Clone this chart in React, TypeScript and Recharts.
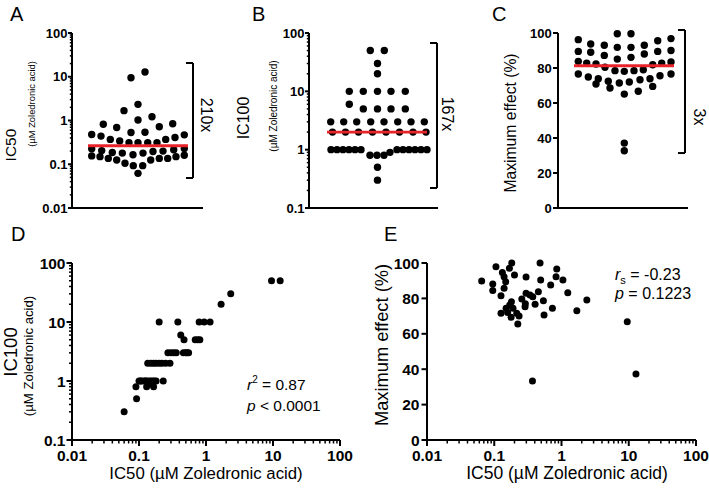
import React from 'react';
import { ScatterChart, Scatter, XAxis, YAxis, ReferenceLine } from 'recharts';

const FONT = '"Liberation Sans", Arial, Helvetica, sans-serif';
const RED = '#e8242b';
const BLACK = '#000000';

// ---------- Panel A: IC50 swarm (pos = swarm column offset, v = IC50 µM) ----------
const ic50Swarm = [
  { pos: 7, v: 12.8 }, { pos: -7, v: 9.5 },
  { pos: 0, v: 2.34 }, { pos: -14, v: 1.68 },
  { pos: 14, v: 1.22 }, { pos: 0, v: 1.03 },
  { pos: -34.7, v: 0.82 }, { pos: -21.3, v: 0.69 }, { pos: 21.3, v: 0.72 }, { pos: 34.7, v: 0.84 },
  { pos: -7, v: 0.53 }, { pos: 7, v: 0.54 },
  { pos: -46.3, v: 0.48 }, { pos: -37, v: 0.44 }, { pos: -27.7, v: 0.37 }, { pos: -18.3, v: 0.34 },
  { pos: -9, v: 0.31 }, { pos: 0, v: 0.31 }, { pos: 9.7, v: 0.31 }, { pos: 19, v: 0.31 },
  { pos: 27.7, v: 0.37 }, { pos: 37, v: 0.41 }, { pos: 46.3, v: 0.47 },
  { pos: -46.3, v: 0.225 }, { pos: -36.3, v: 0.205 }, { pos: -25.7, v: 0.185 }, { pos: -15.7, v: 0.18 },
  { pos: -5, v: 0.165 }, { pos: 5, v: 0.18 }, { pos: 15, v: 0.195 }, { pos: 25, v: 0.2 },
  { pos: 35.7, v: 0.215 }, { pos: 46.3, v: 0.23 },
  { pos: -46.3, v: 0.155 }, { pos: -38, v: 0.149 }, { pos: -29.7, v: 0.136 }, { pos: -21.3, v: 0.125 },
  { pos: -13, v: 0.105 }, { pos: -4.7, v: 0.093 }, { pos: 4.7, v: 0.093 }, { pos: 12.7, v: 0.125 },
  { pos: 21.3, v: 0.136 }, { pos: 29.7, v: 0.136 }, { pos: 38, v: 0.149 }, { pos: 46.3, v: 0.16 },
  { pos: 0, v: 0.062 },
];
const ic50Median = [{ pos: -50, v: 0.265 }, { pos: 50, v: 0.265 }];
const ic50Bracket = { pos: 55, arm: 48, top: 20.6, bottom: 0.0485, label: '210x' };

// ---------- Panel B: IC100 swarm ----------
const ic100Swarm = [
  { pos: -7.2, v: 50 }, { pos: 6.8, v: 50 },
  { pos: 0, v: 30 }, { pos: 0, v: 20 },
  { pos: -28.2, v: 10 }, { pos: -14.2, v: 10 }, { pos: 0, v: 10 }, { pos: 13.5, v: 10 }, { pos: 27.8, v: 10 },
  { pos: -28.2, v: 6 },
  { pos: -14.2, v: 5 }, { pos: 0, v: 5 }, { pos: 13.5, v: 5 }, { pos: 27.8, v: 5 },
  { pos: -46.8, v: 3 }, { pos: -33.8, v: 3 }, { pos: -20.8, v: 3 }, { pos: -6.8, v: 3 },
  { pos: 6.5, v: 3 }, { pos: 20.2, v: 3 }, { pos: 33.5, v: 3 }, { pos: 46.8, v: 3 },
  { pos: -45, v: 2 }, { pos: -32, v: 2 }, { pos: -19, v: 2 }, { pos: -5, v: 2 },
  { pos: 8.5, v: 2 }, { pos: 22, v: 2 }, { pos: 35.5, v: 2 }, { pos: 48.5, v: 2 },
  { pos: -46.5, v: 1 }, { pos: -40.5, v: 1 }, { pos: -34.5, v: 1 }, { pos: -28.5, v: 1 },
  { pos: -22.5, v: 1 }, { pos: -16.5, v: 1 },
  { pos: 19.5, v: 1 }, { pos: 25.5, v: 1 }, { pos: 31.5, v: 1 }, { pos: 37.5, v: 1 },
  { pos: 43.5, v: 1 }, { pos: 49.5, v: 1 },
  { pos: -7.5, v: 0.8 }, { pos: -0.5, v: 0.8 }, { pos: 6.5, v: 0.8 }, { pos: 12.5, v: 0.9 },
  { pos: 0, v: 0.5 }, { pos: 0, v: 0.3 },
];
const ic100Median = [{ pos: -50.5, v: 2 }, { pos: 49.5, v: 2 }];
const ic100Bracket = { pos: 59.5, arm: 52.5, top: 67.4, bottom: 0.22, label: '167x' };

// ---------- Panel C: maximum effect swarm ----------
const emaxSwarm = [
  { pos: -7, v: 99.6 }, { pos: 6.7, v: 99.6 }, { pos: -46, v: 96.2 }, { pos: 46.7, v: 96.8 }, { pos: 33.4, v: 95.6 },
  { pos: -33.6, v: 93.7 }, { pos: -20, v: 93 }, { pos: 20, v: 93 }, { pos: -7, v: 91.8 }, { pos: 6.7, v: 91.8 },
  { pos: -46, v: 89.5 }, { pos: -33.6, v: 89 }, { pos: 33.4, v: 89.5 }, { pos: 46.7, v: 90 },
  { pos: -20, v: 87.2 }, { pos: 20, v: 88 }, { pos: -7, v: 85.1 }, { pos: 6.7, v: 86.1 },
  { pos: -46, v: 83.8 }, { pos: 46.7, v: 83.4 }, { pos: -37.6, v: 82.8 }, { pos: 37.4, v: 82.8 },
  { pos: -28.3, v: 82.3 }, { pos: 28.4, v: 81.9 }, { pos: -19.3, v: 80.4 }, { pos: 19, v: 79 },
  { pos: -9.3, v: 78.5 }, { pos: 0, v: 78.1 }, { pos: 9.7, v: 78.5 },
  { pos: -46, v: 76.6 }, { pos: 46.7, v: 76.6 }, { pos: 35.7, v: 75.6 }, { pos: -36, v: 74.9 },
  { pos: -26, v: 73.9 }, { pos: 25.7, v: 73.9 }, { pos: -16, v: 72.4 }, { pos: 15.7, v: 73.3 },
  { pos: -5, v: 71.4 }, { pos: 5, v: 72 }, { pos: -28.3, v: 70.9 }, { pos: 28.4, v: 69.5 },
  { pos: -14.3, v: 68.6 }, { pos: 14, v: 66.7 }, { pos: 0, v: 65.1 },
  { pos: 0, v: 37.1 }, { pos: 0, v: 32.7 },
];
const emaxMedian = [{ pos: -50.3, v: 81.3 }, { pos: 49.7, v: 81.3 }];
const emaxBracket = { pos: 60.7, arm: 53.7, top: 101.7, bottom: 31.4, label: '3x' };

// ---------- Panel D: IC50 vs IC100 ----------
const ic50VsIc100 = [
  { x: 9.5, y: 50 }, { x: 12.8, y: 50 }, { x: 2.34, y: 30 }, { x: 1.68, y: 20 },
  { x: 0.2, y: 10 }, { x: 0.38, y: 10 }, { x: 0.79, y: 10 }, { x: 0.94, y: 10 }, { x: 1.15, y: 10 },
  { x: 0.42, y: 6 },
  { x: 0.47, y: 5 }, { x: 0.69, y: 5 }, { x: 0.75, y: 5 }, { x: 0.81, y: 5 },
  { x: 0.27, y: 3 }, { x: 0.3, y: 3 }, { x: 0.33, y: 3 }, { x: 0.36, y: 3 },
  { x: 0.46, y: 3 }, { x: 0.5, y: 3 }, { x: 0.52, y: 3 }, { x: 0.55, y: 3 },
  { x: 0.135, y: 2 }, { x: 0.15, y: 2 }, { x: 0.165, y: 2 }, { x: 0.18, y: 2 },
  { x: 0.2, y: 2 }, { x: 0.22, y: 2 }, { x: 0.25, y: 2 }, { x: 0.29, y: 2 },
  { x: 0.1, y: 1 }, { x: 0.105, y: 1 }, { x: 0.11, y: 1 }, { x: 0.12, y: 1 },
  { x: 0.125, y: 1 }, { x: 0.13, y: 1 }, { x: 0.14, y: 1 }, { x: 0.15, y: 1 },
  { x: 0.16, y: 1 }, { x: 0.17, y: 1 }, { x: 0.18, y: 1 }, { x: 0.23, y: 1 },
  { x: 0.09, y: 0.8 }, { x: 0.13, y: 0.8 }, { x: 0.165, y: 0.8 }, { x: 0.15, y: 0.9 },
  { x: 0.092, y: 0.5 }, { x: 0.06, y: 0.3 },
];

// ---------- Panel E: IC50 vs maximum effect ----------
const ic50VsEmax = [
  { x: 0.065, y: 89.8 }, { x: 0.095, y: 88.1 }, { x: 0.095, y: 84.4 }, { x: 0.106, y: 97.9 },
  { x: 0.132, y: 94.7 }, { x: 0.14, y: 92.3 }, { x: 0.148, y: 89.4 }, { x: 0.14, y: 85.7 },
  { x: 0.168, y: 97 }, { x: 0.182, y: 100 }, { x: 0.2, y: 93.2 }, { x: 0.126, y: 81.5 },
  { x: 0.297, y: 92.1 }, { x: 0.48, y: 100 }, { x: 0.49, y: 90.4 }, { x: 0.69, y: 87.6 },
  { x: 0.85, y: 96.6 }, { x: 0.83, y: 92.3 }, { x: 1.05, y: 90.4 }, { x: 1.24, y: 83.2 },
  { x: 2.38, y: 79.1 }, { x: 1.69, y: 73 }, { x: 9.5, y: 66.8 }, { x: 12.8, y: 37.3 },
  { x: 0.37, y: 33.3 },
  { x: 0.18, y: 78.1 }, { x: 0.17, y: 76.3 }, { x: 0.19, y: 74.4 }, { x: 0.126, y: 71.6 },
  { x: 0.158, y: 72.1 }, { x: 0.178, y: 69.3 }, { x: 0.216, y: 71.6 }, { x: 0.234, y: 70.1 },
  { x: 0.224, y: 65.5 }, { x: 0.257, y: 79.7 }, { x: 0.287, y: 75.3 }, { x: 0.297, y: 82.9 },
  { x: 0.34, y: 81.9 }, { x: 0.374, y: 81 }, { x: 0.405, y: 76.7 }, { x: 0.453, y: 83.8 },
  { x: 0.538, y: 78.7 }, { x: 0.55, y: 70.6 }, { x: 0.733, y: 74.4 }, { x: 0.15, y: 74.5 },
  { x: 0.29, y: 77 },
];

// ---------- ticks ----------
const decadesA = [0.01, 0.1, 1, 10, 100];
const decadesB = [0.1, 1, 10, 100];
const percentTicks = [0, 20, 40, 60, 80, 100];
const minorMultipliers = [2, 3, 4, 5, 6, 7, 8, 9];
const withMinor = (decades: number[]) => {
  const out: number[] = [];
  decades.forEach((d, i) => {
    out.push(d);
    if (i < decades.length - 1) minorMultipliers.forEach((m) => out.push(d * m));
  });
  return out;
};

const isMajor = (list: number[], v: number) => list.some((m) => Math.abs(m - v) <= 1e-9 * Math.max(1, Math.abs(m)));

const makeYTick = (major: number[], majorLen: number, minorLen: number, fontSize: number, gap: number) => (props: any) => {
  const { x, y, payload } = props;
  const v = payload.value;
  const maj = isMajor(major, v);
  const len = maj ? majorLen : minorLen;
  return (
    <g>
      <line x1={x} y1={y} x2={x - len} y2={y} stroke={BLACK} strokeWidth={maj ? 2 : 1.5} />
      {maj && (
        <text x={x - majorLen - gap} y={y} dy="0.36em" textAnchor="end" fontFamily={FONT} fontWeight="bold" fontSize={fontSize} fill={BLACK}>
          {String(v)}
        </text>
      )}
    </g>
  );
};

const makeXTick = (major: number[], majorLen: number, minorLen: number, fontSize: number, baseline: number) => (props: any) => {
  const { x, y, payload } = props;
  const v = payload.value;
  const maj = isMajor(major, v);
  const len = maj ? majorLen : minorLen;
  return (
    <g>
      <line x1={x} y1={y} x2={x} y2={y + len} stroke={BLACK} strokeWidth={maj ? 2 : 1.5} />
      {maj && (
        <text x={x} y={y + baseline} textAnchor="middle" fontFamily={FONT} fontWeight="bold" fontSize={fontSize} fill={BLACK}>
          {String(v)}
        </text>
      )}
    </g>
  );
};

const axisLine = { stroke: BLACK, strokeWidth: 2 };
const dot = (r: number) => (p: any) => <circle cx={p.cx} cy={p.cy} r={r} fill={BLACK} />;
const noShape = () => <g />;

type SwarmProps = {
  left: number; top: number; width: number; height: number;
  margin: { top: number; right: number; bottom: number; left: number };
  xDomain: [number, number];
  yDomain: [number, number];
  log: boolean;
  yTicks: number[];
  yMajor: number[];
  tickLen: number;
  tickGap: number;
  data: { pos: number; v: number }[];
  median: { pos: number; v: number }[];
  bracket: { pos: number; arm: number; top: number; bottom: number; label: string };
};

const Swarm = (p: SwarmProps) => (
  <div style={{ position: 'absolute', left: p.left, top: p.top, width: p.width, height: p.height }}>
    <ScatterChart width={p.width} height={p.height} margin={p.margin}>
      <XAxis type="number" dataKey="pos" domain={p.xDomain} height={1} tick={false} tickLine={false} axisLine={axisLine} />
      <YAxis
        type="number"
        dataKey="v"
        scale={p.log ? 'log' : 'linear'}
        domain={p.yDomain}
        ticks={p.yTicks}
        interval={0}
        width={40}
        tickSize={0}
        tickMargin={0}
        tickLine={false}
        axisLine={axisLine}
        tick={makeYTick(p.yMajor, p.tickLen, p.tickLen * 0.55, 13, p.tickGap)}
      />
      <ReferenceLine segment={[{ x: p.bracket.pos, y: p.bracket.top }, { x: p.bracket.pos, y: p.bracket.bottom }]} stroke={BLACK} strokeWidth={2} ifOverflow="visible" />
      <ReferenceLine segment={[{ x: p.bracket.arm, y: p.bracket.top }, { x: p.bracket.pos, y: p.bracket.top }]} stroke={BLACK} strokeWidth={2} ifOverflow="visible" />
      <ReferenceLine segment={[{ x: p.bracket.arm, y: p.bracket.bottom }, { x: p.bracket.pos, y: p.bracket.bottom }]} stroke={BLACK} strokeWidth={2} ifOverflow="visible" />
      <Scatter data={p.data} shape={dot(3.7)} isAnimationActive={false} />
      <Scatter data={p.median} shape={noShape} line={{ stroke: RED, strokeWidth: 2.8 }} isAnimationActive={false} />
    </ScatterChart>
  </div>
);

export default function App() {
  return (
    <div style={{ position: 'absolute', left: 0, top: 0, width: 709, height: 494, background: '#fff', overflow: 'hidden' }}>
      <Swarm
        left={0} top={0} width={240} height={220}
        margin={{ top: 33, right: 37, bottom: 11, left: 32 }}
        xDomain={[-66, 65]} yDomain={[0.01, 100]} log
        yTicks={withMinor(decadesA)} yMajor={decadesA} tickLen={4} tickGap={0.5}
        data={ic50Swarm} median={ic50Median} bracket={ic50Bracket}
      />
      <Swarm
        left={230} top={0} width={240} height={220}
        margin={{ top: 33, right: 32, bottom: 11, left: 39 }}
        xDomain={[-68.5, 60.5]} yDomain={[0.1, 100]} log
        yTicks={withMinor(decadesB)} yMajor={decadesB} tickLen={4} tickGap={0.5}
        data={ic100Swarm} median={ic100Median} bracket={ic100Bracket}
      />
      <Swarm
        left={470} top={0} width={239} height={220}
        margin={{ top: 33, right: 21, bottom: 11, left: 48 }}
        xDomain={[-66.3, 63.7]} yDomain={[0, 100]} log={false}
        yTicks={percentTicks} yMajor={percentTicks} tickLen={5} tickGap={1.3}
        data={emaxSwarm} median={emaxMedian} bracket={emaxBracket}
      />

      {/* Panel D */}
      <div style={{ position: 'absolute', left: 0, top: 220, width: 360, height: 274 }}>
        <ScatterChart width={360} height={274} margin={{ top: 43, right: 20, bottom: 24, left: 32 }}>
          <XAxis
            type="number" dataKey="x" scale="log" domain={[0.01, 100]}
            ticks={withMinor(decadesA)} interval={0} height={30} tickSize={0} tickMargin={0} tickLine={false}
            axisLine={axisLine} tick={makeXTick(decadesA, 6, 3.5, 15.5, 21)}
          />
          <YAxis
            type="number" dataKey="y" scale="log" domain={[0.1, 100]}
            ticks={withMinor(decadesB)} interval={0} width={40} tickSize={0} tickMargin={0} tickLine={false}
            axisLine={axisLine} tick={makeYTick(decadesB, 5.5, 3, 15.5, 1)}
          />
          <Scatter data={ic50VsIc100} shape={dot(3.5)} isAnimationActive={false} />
        </ScatterChart>
      </div>

      {/* Panel E */}
      <div style={{ position: 'absolute', left: 350, top: 220, width: 359, height: 274 }}>
        <ScatterChart width={359} height={274} margin={{ top: 43, right: 13, bottom: 24, left: 37 }}>
          <XAxis
            type="number" dataKey="x" scale="log" domain={[0.01, 100]}
            ticks={withMinor(decadesA)} interval={0} height={30} tickSize={0} tickMargin={0} tickLine={false}
            axisLine={axisLine} tick={makeXTick(decadesA, 6, 3.5, 15.5, 21)}
          />
          <YAxis
            type="number" dataKey="y" domain={[0, 100]}
            ticks={percentTicks} interval={0} width={40} tickSize={0} tickMargin={0} tickLine={false}
            axisLine={axisLine} tick={makeYTick(percentTicks, 5.5, 3, 15.5, 2)}
          />
          <Scatter data={ic50VsEmax} shape={dot(3.5)} isAnimationActive={false} />
        </ScatterChart>
      </div>

      {/* text overlay */}
      <svg width={709} height={494} style={{ position: 'absolute', left: 0, top: 0, pointerEvents: 'none' }} fontFamily={FONT} fill={BLACK}>
        <text x={10} y={21} fontSize={20}>A</text>
        <text x={252} y={21} fontSize={20}>B</text>
        <text x={492} y={21} fontSize={20}>C</text>
        <text x={11} y={241} fontSize={20}>D</text>
        <text x={384} y={241} fontSize={20}>E</text>

        <text transform="translate(11,145) rotate(-90)" textAnchor="middle" dy="0.35em" fontSize={15.5}>IC50</text>
        <text transform="translate(32,104) rotate(-90)" textAnchor="middle" dy="0.35em" fontSize={9.4}>(µM Zoledronic acid)</text>
        <text transform="translate(243,118) rotate(-90)" textAnchor="middle" dy="0.35em" fontSize={16}>IC100</text>
        <text transform="translate(273,106) rotate(-90)" textAnchor="middle" dy="0.35em" fontSize={10}>(µM Zoledronic acid)</text>
        <text transform="translate(510,123) rotate(-90)" textAnchor="middle" dy="0.35em" fontSize={15.7}>Maximum effect (%)</text>

        <text transform="translate(207,115) rotate(90)" textAnchor="middle" dy="0.35em" fontSize={16}>{ic50Bracket.label}</text>
        <text transform="translate(448,114) rotate(90)" textAnchor="middle" dy="0.35em" fontSize={16}>{ic100Bracket.label}</text>
        <text transform="translate(700,117) rotate(90)" textAnchor="middle" dy="0.35em" fontSize={16}>{emaxBracket.label}</text>

        <text transform="translate(11,352) rotate(-90)" textAnchor="middle" dy="0.35em" fontSize={18.5}>IC100</text>
        <text transform="translate(28,356) rotate(-90)" textAnchor="middle" dy="0.35em" fontSize={13.2}>(µM Zoledronic acid)</text>
        <text x={206} y={479} textAnchor="middle" fontSize={16.8}>IC50 (µM Zoledronic acid)</text>
        <text x={247} y={390} fontSize={15.5}>
          <tspan fontStyle="italic">r</tspan>
          <tspan fontSize={10} dy={-7}>2</tspan>
          <tspan dy={7}> = 0.87</tspan>
        </text>
        <text x={247} y={411} fontSize={15.5}>
          <tspan fontStyle="italic">p</tspan>
          <tspan> &lt; 0.0001</tspan>
        </text>

        <text transform="translate(382,345) rotate(-90)" textAnchor="middle" dy="0.35em" fontSize={18.3}>Maximum effect (%)</text>
        <text x={567} y={479} textAnchor="middle" fontSize={17.5}>IC50 (µM Zoledronic acid)</text>
        <text x={615} y={280} fontSize={16}>
          <tspan fontStyle="italic">r</tspan>
          <tspan fontSize={11} dy={4}>s</tspan>
          <tspan dy={-4}> = -0.23</tspan>
        </text>
        <text x={615} y={299} fontSize={16}>
          <tspan fontStyle="italic">p</tspan>
          <tspan> = 0.1223</tspan>
        </text>
      </svg>
    </div>
  );
}
